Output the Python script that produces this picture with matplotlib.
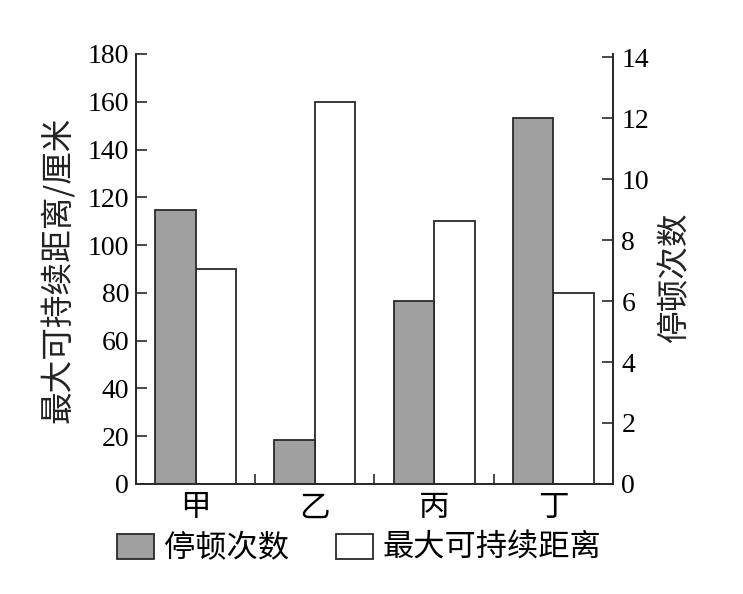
import matplotlib
matplotlib.use("Agg")
import matplotlib.pyplot as plt
import numpy as np

categories = ["甲", "乙", "丙", "丁"]
pause_counts = [9, 1.45, 6, 12]         # 停顿次数 (right axis)
max_distance = [90, 160, 110, 80]       # 最大可持续距离/厘米 (left axis)
left_ticks = [0, 20, 40, 60, 80, 100, 120, 140, 160, 180]
right_ticks = [0, 2, 4, 6, 8, 10, 12, 14]

plt.rcParams['font.family'] = ['Liberation Serif', 'Noto Sans CJK SC']
cjk = ['Noto Sans CJK SC', 'DejaVu Sans']

fig = plt.figure(figsize=(7.43, 5.94), dpi=100)
ax = fig.add_axes([0.1830, 0.1852, 0.8250 - 0.1830, 0.9091 - 0.1852])
ax2 = ax.twinx()

x = np.arange(len(categories))
w = 0.34
edge = '#2a2a2a'
gray_bars = ax2.bar(x - w / 2, pause_counts, width=w, color='#a0a0a0',
                    edgecolor=edge, linewidth=1.3, label='停顿次数')
white_bars = ax.bar(x + w / 2, max_distance, width=w, color='white',
                    edgecolor=edge, linewidth=1.3, label='最大可持续距离')

ax.set_xlim(-0.5, len(categories) - 0.5)
ax.set_ylim(0, 180)
ax2.set_ylim(0, 14.1)
ax.set_yticks(left_ticks)
ax2.set_yticks(right_ticks)

ax.set_xticks(x)
ax.set_xticklabels(categories, fontfamily=cjk, fontsize=22)
ax.set_xticks(np.arange(0.5, len(categories) - 0.5, 1.0), minor=True)
ax.tick_params(axis='x', which='major', length=0, pad=6)
ax.tick_params(axis='x', which='minor', direction='in', length=7, width=1.2, color=edge)

ax.tick_params(axis='y', direction='in', length=8, width=1.2, labelsize=20, pad=5, color=edge)
ax2.tick_params(axis='y', direction='in', length=8, width=1.2, labelsize=20, pad=6, color=edge)

for a in (ax, ax2):
    a.spines['top'].set_visible(False)
    for s in ('left', 'right', 'bottom'):
        a.spines[s].set_linewidth(1.3)
        a.spines[s].set_color(edge)

fig.text(58 / 743, 1 - 270 / 594, '最大可持续距离/厘米', rotation=90,
         ha='center', va='center', fontsize=23.5, fontfamily=cjk, color='#222222')
fig.text(675 / 743, 1 - 277 / 594, '停顿次数', rotation=90,
         ha='center', va='center', fontsize=23.5, fontfamily=cjk, color='#222222')

fig.legend(handles=[gray_bars, white_bars], loc='center',
           bbox_to_anchor=(359 / 743, 1 - 548 / 594), ncol=2, frameon=False,
           prop={'family': cjk, 'size': 22.5}, handlelength=1.2, handleheight=0.85,
           handletextpad=0.3, columnspacing=1.5, borderaxespad=0, borderpad=0)

fig.savefig('out.png', dpi=100)
